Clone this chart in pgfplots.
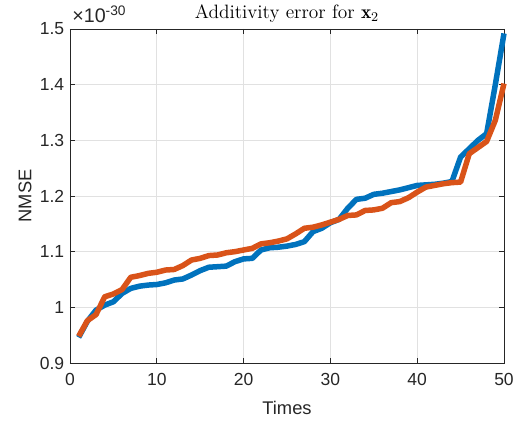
\documentclass[border=0pt]{standalone}
\usepackage{pgfplots}
\pgfplotsset{compat=1.18}
\usepackage{fontspec}
\setsansfont{Liberation Sans}
\definecolor{mblue}{RGB}{0,114,189}
\definecolor{morange}{RGB}{217,83,25}
\definecolor{axgray}{RGB}{38,38,38}
\definecolor{gridgray}{RGB}{225,225,225}
\pgfplotstableread{
x y
1 0.946
2 0.975
3 0.995
4 1.004
5 1.010
6 1.025
7 1.034
8 1.038
9 1.040
10 1.041
11 1.044
12 1.049
13 1.051
14 1.058
15 1.066
16 1.072
17 1.073
18 1.074
19 1.082
20 1.087
21 1.088
22 1.103
23 1.107
24 1.108
25 1.110
26 1.113
27 1.118
28 1.136
29 1.142
30 1.152
31 1.158
32 1.178
33 1.194
34 1.196
35 1.203
36 1.205
37 1.208
38 1.211
39 1.215
40 1.219
41 1.220
42 1.221
43 1.223
44 1.226
45 1.270
46 1.285
47 1.300
48 1.312
49 1.400
50 1.492
}\blueTab
\pgfplotstableread{
x y
1 0.948
2 0.976
3 0.987
4 1.019
5 1.024
6 1.032
7 1.054
8 1.057
9 1.061
10 1.063
11 1.067
12 1.068
13 1.075
14 1.085
15 1.088
16 1.093
17 1.094
18 1.098
19 1.100
20 1.103
21 1.106
22 1.114
23 1.116
24 1.119
25 1.123
26 1.132
27 1.142
28 1.144
29 1.148
30 1.153
31 1.158
32 1.165
33 1.166
34 1.174
35 1.175
36 1.178
37 1.188
38 1.190
39 1.197
40 1.207
41 1.216
42 1.219
43 1.222
44 1.224
45 1.225
46 1.276
47 1.287
48 1.298
49 1.336
50 1.402
}\orangeTab
\begin{document}
\begin{tikzpicture}
\begin{axis}[
  scale only axis, width=260.4pt, height=200.4pt,
  xmin=0, xmax=50, ymin=0.9, ymax=1.5,
  xtick={0,10,20,30,40,50},
  ytick={0.9,1.0,1.1,1.2,1.3,1.4,1.5},
  yticklabels={0.9,1,1.1,1.2,1.3,1.4,1.5},
  grid=major,
  major grid style={gridgray, line width=0.4pt},
  axis line style={axgray, line width=0.5pt},
  tick style={axgray, line width=0.5pt},
  tick align=inside, major tick length=3pt,
  /pgf/number format/assume math mode=true,
  tick label style={font=\sffamily\fontsize{10.5}{12}\selectfont, text=axgray},
  xticklabel style={yshift=-2.4pt},
  xlabel={Times}, ylabel={NMSE},
  label style={font=\sffamily\fontsize{11}{13}\selectfont, text=axgray},
  xlabel style={at={(axis description cs:0.5,0)}, anchor=center, yshift=-26.7pt},
  ylabel style={at={([xshift=-27pt]axis description cs:0,0.5)}, anchor=center},
  clip=false,
]
\coordinate (ll) at (rel axis cs:0,0);
\coordinate (ur) at (rel axis cs:1,1);
\node[anchor=base, inner sep=0pt, font=\fontsize{11.6}{13}\selectfont] at ([yshift=6pt]rel axis cs:0.5,1) {Additivity error for $\mathbf{x}_2$};
\node[anchor=base west, inner sep=0pt, text=axgray, font=\sffamily\fontsize{11.8}{13}\selectfont] at ([xshift=1.2pt, yshift=3.6pt]rel axis cs:0,1) {×10\textsuperscript{-30}};
\addplot[mblue, line width=3.3pt, line join=round] table[x=x,y=y] {\blueTab};
\addplot[morange, line width=3.3pt, line join=round] table[x=x,y=y] {\orangeTab};
\end{axis}
\pgfresetboundingbox
\path ([shift={(-42pt,-36.6pt)}]ll) rectangle ([shift={(10.8pt,17.4pt)}]ur);
\end{tikzpicture}
\end{document}
